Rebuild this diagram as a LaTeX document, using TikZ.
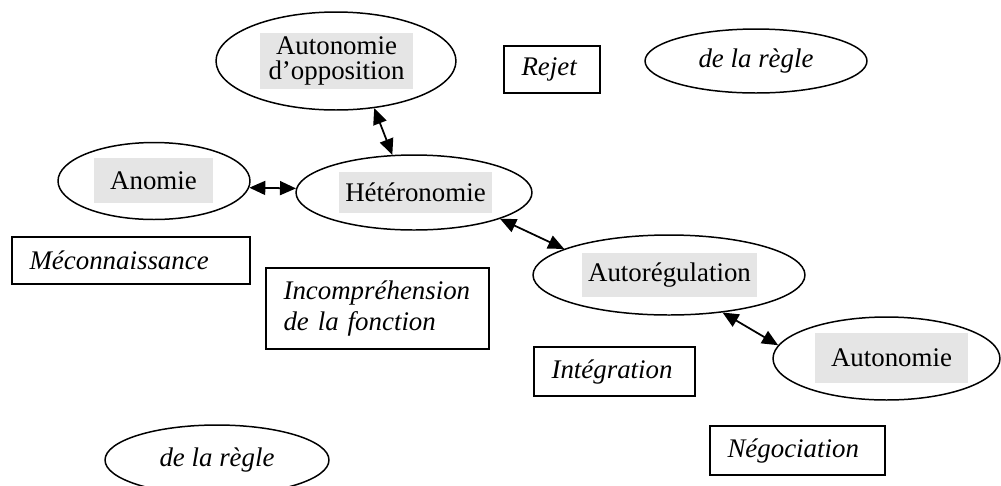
\documentclass[tikz,border=0pt]{standalone}
\usepackage{fontspec}
\setmainfont{Liberation Serif}
\usepackage{tikz}
\usetikzlibrary{shapes.geometric,arrows.meta}
\definecolor{labelgrey}{RGB}{229,229,229}

\tikzset{
  etat/.style={draw,ellipse,line width=0.85pt,inner sep=0pt},
  etiq/.style={fill=labelgrey,inner sep=0pt,font=\fontsize{15.3}{18}\selectfont},
  regle/.style={etat,font=\fontsize{15.3}{18}\selectfont\itshape},
  modebox/.style={draw,line width=1.2pt,anchor=north west,align=left,inner xsep=0.35cm,inner ysep=0pt,font=\fontsize{15.3}{18}\selectfont\itshape},
  lien/.style={{Triangle[length=3.2mm,width=2.8mm]}-{Triangle[length=3.2mm,width=2.8mm]},line width=1pt}
}

\begin{document}
\begin{tikzpicture}[x=0.02cm,y=-0.02cm]
     \useasboundingbox (0,0) rectangle (1001,485);
     % etats
     \node[etat,minimum width=4.8cm,minimum height=1.96cm] (aopp) at (336,61) {};
     \node[etiq,minimum width=3.06cm,minimum height=1.12cm,align=center,font=\fontsize{15.3}{14.5}\selectfont] (aopplab) at (336.5,61) {Autonomie\\d’opposition};
     \node[etat,minimum width=3.84cm,minimum height=1.54cm] (anom) at (154,181) {};
     \node[etiq,minimum width=2.38cm,minimum height=0.9cm] (anomlab) at (153.5,180.5) {Anomie};
     \node[etat,minimum width=4.72cm,minimum height=1.5cm] (het) at (414,192.5) {};
     \node[etiq,minimum width=3.06cm,minimum height=0.82cm] (hetlab) at (415.5,192.5) {Hétéronomie};
     \node[etat,minimum width=5.44cm,minimum height=1.6cm] (autoreg) at (669,275) {};
     \node[etiq,minimum width=3.5cm,minimum height=0.88cm] (autoreglab) at (669.5,275) {Autorégulation};
     \node[etat,minimum width=4.54cm,minimum height=1.66cm] (auton) at (886.5,358.5) {};
     \node[etiq,minimum width=3.06cm,minimum height=1cm] (autonlab) at (891.5,358) {Autonomie};
     \node[regle,minimum width=4.44cm,minimum height=1.28cm] (regleA) at (756,61) {de la règle};
     \node[regle,minimum width=4.48cm,minimum height=1.4cm] (regleB) at (217,460) {de la règle};
     % modes
     \node[modebox,text width=1.22cm,minimum height=0.94cm] (rejet) at (503,45) {Rejet};
     \node[modebox,text width=4.06cm,minimum height=0.94cm] (mecon) at (11,236) {Méconnaissance};
     \node[modebox,text width=3.76cm,minimum height=1.62cm] (incomp) at (265,267) {Incompréhension\\de la fonction};
     \node[modebox,text width=2.52cm,minimum height=0.98cm] (integ) at (533,346) {Intégration};
     \node[modebox,text width=2.8cm,minimum height=0.98cm] (nego) at (709,425) {Négociation};
     % liens
     \draw[lien] (anom.-4) -- (het.178);
     \draw[lien] (aopp.-51.5) -- (het.120);
     \draw[lien] (het.-17) -- (autoreg.166);
     \draw[lien] (autoreg.-35) -- (auton.173);
\end{tikzpicture}
\end{document}
